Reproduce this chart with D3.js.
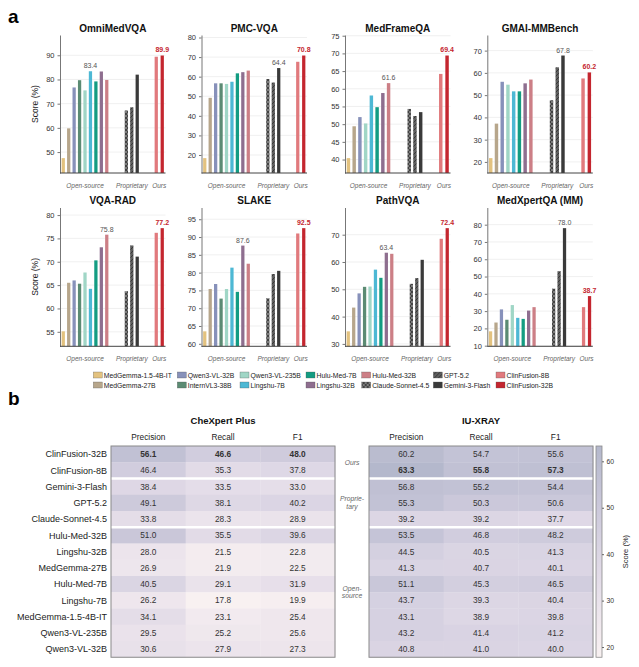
<!DOCTYPE html>
<html><head><meta charset="utf-8">
<script src="https://cdn.jsdelivr.net/npm/d3@7"></script>
<style>body{margin:0;background:#fff}svg{display:block;font-family:"Liberation Sans",Arial,sans-serif}</style>
</head><body><svg id="c" width="639" height="667"></svg>
<script>
// ---------- data: panel a ----------
const models = ["MedGemma-1.5-4B-IT","MedGemma-27B","Qwen3-VL-32B","InternVL3-38B","Qwen3-VL-235B","Lingshu-7B","Hulu-Med-7B","Lingshu-32B","Hulu-Med-32B","Claude-Sonnet-4.5","GPT-5.2","Gemini-3-Flash","ClinFusion-8B","ClinFusion-32B"];
const modelGroup = [0,0,0,0,0,0,0,0,0,1,1,1,2,2];
const groupNames = ["Open-source","Proprietary","Ours"];
const benchmarks = ["OmniMedVQA","PMC-VQA","MedFrameQA","GMAI-MMBench","VQA-RAD","SLAKE","PathVQA","MedXpertQA (MM)"];
const omniMedVQA = [47.5,59.8,76.7,79.7,75.5,83.4,79.2,83.3,79.8,67.2,68.5,82.0,89.4,89.9];
const pmcVQA     = [18.4,49.2,56.6,56.6,56.3,57.4,61.7,62.3,63.1,58.8,57.0,64.4,67.6,70.8];
const medFrameQA = [40.4,49.4,52.0,null,50.2,58.1,54.8,58.8,61.6,54.3,52.3,53.4,64.2,69.4];
const gmaiMMBench= [21.7,37.2,56.0,null,54.7,51.7,51.7,55.3,57.0,47.7,62.5,67.8,57.5,60.2];
const vqaRAD     = [55.1,65.5,66.0,65.3,67.7,64.2,70.3,73.1,75.8,63.7,73.5,71.1,76.2,77.2];
const slake      = [63.5,75.4,76.8,72.7,75.4,81.4,74.6,87.6,82.5,72.8,79.6,80.5,91.0,92.5];
const pathVQA    = [34.6,43.3,48.5,50.9,51.0,57.2,54.2,63.4,63.0,52.0,54.1,60.8,68.5,72.4];
const medXpertQA = [18.3,23.4,31.0,25.0,33.5,26.1,25.5,30.3,32.3,43.0,53.1,78.0,32.3,38.7];
const tickSteps  = [10,10,5,10,5,5,10,10];

// ---------- data: panel b ----------
const hmRows = ["ClinFusion-32B","ClinFusion-8B","Gemini-3-Flash","GPT-5.2","Claude-Sonnet-4.5","Hulu-Med-32B","Lingshu-32B","MedGemma-27B","Hulu-Med-7B","Lingshu-7B","MedGemma-1.5-4B-IT","Qwen3-VL-235B","Qwen3-VL-32B"];
const hmMetrics = ["Precision","Recall","F1"];
const hmDatasets = ["CheXpert Plus","IU-XRAY"];
const chexPrecision = [56.1,46.4,38.4,49.1,33.8,51.0,28.0,26.9,40.5,26.2,34.1,29.5,30.6];
const chexRecall    = [46.6,35.3,33.5,38.1,28.3,35.5,21.5,21.9,29.1,17.8,23.1,25.2,27.9];
const chexF1        = [48.0,37.8,33.0,40.2,28.9,39.6,22.8,22.5,31.9,19.9,25.4,25.6,27.3];
const iuPrecision   = [60.2,63.3,56.8,55.3,39.2,53.5,44.5,41.3,51.1,43.7,43.1,43.2,40.8];
const iuRecall      = [54.7,55.8,55.2,50.3,39.2,46.8,40.5,40.7,45.3,39.3,38.9,41.4,41.0];
const iuF1          = [55.6,57.3,54.4,50.6,37.7,48.2,41.3,40.1,46.5,40.4,39.8,41.2,40.0];
const hmGroups = [{name:["Ours"],from:0,to:1},{name:["Proprie-","tary"],from:2,to:4},{name:["Open-","source"],from:5,to:12}];
const hmBold = [0,1]; // bold row per dataset
const cbTicks = [20,30,40,50,60];

// ---------- styles ----------
const modelColors = ["#e3c27f","#b7a68b","#8791ba","#5b8b73","#a0d6c6","#4db8d4","#139c82","#8e6e8f","#cc7f86","url(#hx)","url(#hd)","#3a3a3a","#e17a7d","#c4262f"];
const FONT = '"Liberation Sans",Arial,sans-serif';

const svg = d3.select("#c");
const defs = svg.append("defs");
function hatch(id,bg,d,stroke){
  const p = defs.append("pattern").attr("id",id).attr("patternUnits","userSpaceOnUse").attr("width",4).attr("height",4);
  p.append("rect").attr("width",4).attr("height",4).attr("fill",bg);
  p.append("path").attr("d",d).attr("stroke",stroke).attr("stroke-width",0.7).attr("fill","none");
}
hatch("hx","#7c7c7c","M0,0L4,4M4,0L0,4","#2a2a2a");
hatch("hd","#5e5e5e","M-1,1L1,-1M0,4L4,0M3,5L5,3","#262626");

// ---------- panel a ----------
svg.append("text").attr("x",8).attr("y",23).attr("font-size",19).attr("font-weight","bold").text("a");

const scores = [omniMedVQA,pmcVQA,medFrameQA,gmaiMMBench,vqaRAD,slake,pathVQA,medXpertQA];
const colX = [60,201.5,345,487.3], plotW = 105.5;
const rowTop = [35,207.5], rowBot = [173,346.3];

scores.forEach((vals,b)=>{
  const col = b%4, row = Math.floor(b/4);
  const x0 = colX[col], top = rowTop[row], bot = rowBot[row];
  const g = svg.append("g");
  const present = vals.map((v,i)=>i).filter(i=>vals[i]!=null);
  const openIdx = present.filter(i=>modelGroup[i]===0);
  const n = openIdx.length;
  const slot = {};
  openIdx.forEach((i,k)=>slot[i]=k);
  present.filter(i=>modelGroup[i]===1).forEach((i,k)=>slot[i]=n+2.6+k);
  present.filter(i=>modelGroup[i]===2).forEach((i,k)=>slot[i]=n+8.1+1.1*k);
  const x = d3.scaleLinear().domain([-0.6,n+9.8]).range([x0,x0+plotW]);
  const bw = 0.6*plotW/(n+10.4);
  const pv = present.map(i=>vals[i]);
  const mn = d3.min(pv), mx = d3.max(pv), r = mx-mn;
  const y = d3.scaleLinear().domain([mn-0.145*r, mx+0.2*r]).range([bot,top]);
  const st = tickSteps[b];
  const ticks = d3.range(Math.ceil(y.domain()[0]/st)*st, y.domain()[1]+1e-9, st);
  g.selectAll(".grid").data(ticks).join("line")
    .attr("x1",x0).attr("x2",x0+plotW).attr("y1",d=>y(d)).attr("y2",d=>y(d))
    .attr("stroke","#ececec").attr("stroke-width",0.8);
  const ax = g.append("g").attr("transform",`translate(${x0},0)`)
    .call(d3.axisLeft(y).tickValues(ticks).tickSize(2.5).tickSizeOuter(0).tickPadding(3).tickFormat(d3.format("d")));
  ax.select(".domain").attr("stroke","#777");
  ax.selectAll(".tick line").attr("stroke","#777");
  ax.selectAll(".tick text").attr("font-size",7.5).attr("fill","#333").attr("font-family",FONT);
  g.selectAll(".bar").data(present).join("rect")
    .attr("x",i=>x(slot[i])-bw/2).attr("width",bw)
    .attr("y",i=>y(vals[i])).attr("height",i=>bot-y(vals[i]))
    .attr("fill",i=>modelColors[i]);
  g.append("line").attr("x1",x0).attr("x2",x0+plotW).attr("y1",bot).attr("y2",bot).attr("stroke","#444").attr("stroke-width",1);
  const others = present.filter(i=>modelGroup[i]!==2);
  const best = others.reduce((a,c)=>vals[c]>vals[a]?c:a, others[0]);
  g.append("text").attr("x",x(slot[best])).attr("y",y(vals[best])-3).attr("text-anchor","middle")
    .attr("font-size",7).attr("fill","#555").text(vals[best].toFixed(1));
  const ours = present.filter(i=>modelGroup[i]===2);
  const bestO = ours.reduce((a,c)=>vals[c]>vals[a]?c:a, ours[0]);
  g.append("text").attr("x",x(slot[bestO])).attr("y",y(vals[bestO])-3.5).attr("text-anchor","middle")
    .attr("font-size",7).attr("font-weight","bold").attr("fill","#c4262f").text(vals[bestO].toFixed(1));
  [0,1,2].forEach(gi=>{
    const idx = present.filter(i=>modelGroup[i]===gi);
    const cx = d3.mean(idx,i=>x(slot[i]));
    g.append("text").attr("x",cx).attr("y",bot+15).attr("text-anchor","middle")
      .attr("font-size",6.5).attr("font-style","italic").attr("fill","#666").text(groupNames[gi]);
  });
  g.append("text").attr("x",x0+plotW/2).attr("y",top-3.5).attr("text-anchor","middle")
    .attr("font-size",10).attr("font-weight","bold").attr("fill","#111").text(benchmarks[b]);
  if(col===0){
    g.append("text").attr("transform",`translate(38,${(top+bot)/2}) rotate(-90)`).attr("text-anchor","middle")
      .attr("font-size",8.5).attr("fill","#222").text("Score (%)");
  }
});

// legend
const legCols = [93.3,177.3,240,306,361.7,433.3,496];
const legRows = [375,385];
models.forEach((m,i)=>{
  const c = Math.floor(i/2), r = i%2;
  const lg = svg.append("g").attr("transform",`translate(${legCols[c]},${legRows[r]})`);
  lg.append("rect").attr("x",0).attr("y",-3).attr("width",9).attr("height",6).attr("fill",modelColors[i]).attr("stroke","#555").attr("stroke-width",0.3);
  lg.append("text").attr("x",10.5).attr("y",2.5).attr("font-size",6.8).attr("fill","#222").text(m);
});

// ---------- panel b ----------
svg.append("text").attr("x",8).attr("y",405).attr("font-size",19).attr("font-weight","bold").text("b");
const hmData = [[chexPrecision,chexRecall,chexF1],[iuPrecision,iuRecall,iuF1]];
const allVals = hmData.flat(2);
const cmin = d3.min(allVals), cmax = d3.max(allVals);
const cmap = d3.scaleSequential(d3.interpolateRgbBasis(["#f8f1f1","#e6deea","#cfcbdd","#b4b8cc"])).domain([cmin,cmax]);
const hmTop = 446, rowH = 16.25, hmX = [111,369], hmW = 224;
const yb = d3.scaleBand().domain(d3.range(hmRows.length)).range([hmTop,hmTop+rowH*hmRows.length]);

hmData.forEach((ds,di)=>{
  const xb = d3.scaleBand().domain(d3.range(3)).range([hmX[di],hmX[di]+hmW]);
  const g = svg.append("g");
  ds.forEach((colVals,ci)=>{
    g.selectAll(null).data(colVals).join("rect")
      .attr("x",xb(ci)).attr("width",xb.bandwidth()+0.3)
      .attr("y",(d,ri)=>yb(ri)).attr("height",yb.bandwidth()+0.3)
      .attr("fill",d=>cmap(d));
    g.selectAll(null).data(colVals).join("text")
      .attr("x",xb(ci)+xb.bandwidth()/2).attr("y",(d,ri)=>yb(ri)+yb.bandwidth()/2+3)
      .attr("text-anchor","middle").attr("font-size",8.3).attr("fill","#333")
      .attr("font-weight",(d,ri)=>ri===hmBold[di]?"bold":"normal").text(d=>d.toFixed(1));
    g.append("text").attr("x",xb(ci)+xb.bandwidth()/2).attr("y",440).attr("text-anchor","middle")
      .attr("font-size",8.3).attr("fill","#222").text(hmMetrics[ci]);
  });
  [2,5].forEach(ri=>{
    g.append("line").attr("x1",hmX[di]).attr("x2",hmX[di]+hmW).attr("y1",yb(ri)).attr("y2",yb(ri)).attr("stroke","#fff").attr("stroke-width",2.5);
  });
  g.append("rect").attr("x",hmX[di]).attr("y",hmTop).attr("width",hmW).attr("height",rowH*hmRows.length)
    .attr("fill","none").attr("stroke","#8a8a8a").attr("stroke-width",1);
  g.append("text").attr("x",hmX[di]+hmW/2).attr("y",424).attr("text-anchor","middle")
    .attr("font-size",9.5).attr("font-weight","bold").attr("fill","#111").text(hmDatasets[di]);
});
svg.selectAll(".rl").data(hmRows).join("text")
  .attr("x",107).attr("y",(d,i)=>yb(i)+yb.bandwidth()/2+3.2).attr("text-anchor","end")
  .attr("font-size",9).attr("fill","#222").text(d=>d);
hmGroups.forEach(gr=>{
  const cy = (yb(gr.from)+yb(gr.to)+yb.bandwidth())/2;
  const n = gr.name.length;
  gr.name.forEach((t,k)=>{
    svg.append("text").attr("x",352).attr("y",cy+2.3+(k-(n-1)/2)*7.5).attr("text-anchor","middle")
      .attr("font-size",6.8).attr("font-style","italic").attr("fill","#666").text(t);
  });
});
const cbX = 596, cbW = 6, cbBot = hmTop+rowH*hmRows.length;
const cy = d3.scaleLinear().domain([cmin,cmax]).range([cbBot,hmTop]);
const grad = defs.append("linearGradient").attr("id","cbg").attr("x1",0).attr("y1",1).attr("x2",0).attr("y2",0);
d3.range(0,1.0001,0.1).forEach(t=>grad.append("stop").attr("offset",t).attr("stop-color",cmap(cmin+t*(cmax-cmin))));
svg.append("rect").attr("x",cbX).attr("y",hmTop).attr("width",cbW).attr("height",cbBot-hmTop).attr("fill","url(#cbg)").attr("stroke","#8a8a8a").attr("stroke-width",0.8);
const cax = svg.append("g").attr("transform",`translate(${cbX+cbW},0)`)
  .call(d3.axisRight(cy).tickValues(cbTicks).tickSize(2).tickSizeOuter(0).tickPadding(2.5).tickFormat(d3.format("d")));
cax.select(".domain").remove();
cax.selectAll(".tick line").attr("stroke","#666");
cax.selectAll(".tick text").attr("font-size",6.8).attr("fill","#333").attr("font-family",FONT);
svg.append("text").attr("transform",`translate(628,${(hmTop+cbBot)/2}) rotate(-90)`).attr("text-anchor","middle")
  .attr("font-size",7.5).attr("fill","#222").text("Score (%)");
</script></body></html>
